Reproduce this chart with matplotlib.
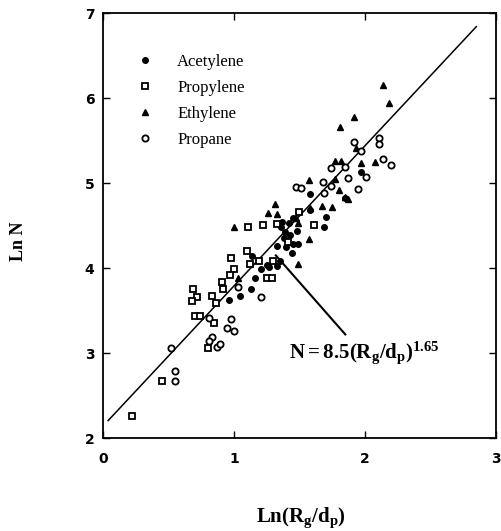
import matplotlib
matplotlib.use('Agg')
import numpy as np
import matplotlib.pyplot as plt

plt.rcParams['mathtext.fontset'] = 'custom'
plt.rcParams['mathtext.rm'] = 'Liberation Serif:bold'
plt.rcParams['mathtext.it'] = 'Liberation Serif:bold'
plt.rcParams['mathtext.bf'] = 'Liberation Serif:bold'

# Ln(Rg/dp), Ln N
acet_x = [1.14, 1.21, 1.16, 1.13, 1.05, 0.96, 1.25, 1.33, 1.35, 1.44, 1.45, 1.49, 1.58, 1.58, 1.36,
          1.39, 1.42, 1.37, 1.43, 1.38, 1.33, 1.70, 1.69, 1.45, 1.48, 1.97, 1.85, 1.27, 1.40]
acet_y = [4.14, 3.99, 3.88, 3.75, 3.67, 3.62, 4.04, 4.02, 4.09, 4.18, 4.28, 4.29, 4.68, 4.87, 4.48,
          4.42, 4.53, 4.54, 4.39, 4.36, 4.26, 4.60, 4.48, 4.59, 4.44, 5.13, 4.82, 4.01, 4.25]

propyl_x = [0.22, 0.45, 0.70, 0.74, 0.69, 0.72, 0.68, 0.83, 0.86, 0.85, 0.80, 0.91, 0.92, 0.98,
            1.00, 0.97, 1.10, 1.12, 1.19, 1.25, 1.29, 1.11, 1.22, 1.33, 1.50, 1.61, 1.41, 1.30]
propyl_y = [2.26, 2.67, 3.44, 3.44, 3.76, 3.66, 3.61, 3.67, 3.59, 3.36, 3.06, 3.84, 3.75, 4.12,
            3.99, 3.92, 4.20, 4.05, 4.09, 3.88, 3.88, 4.49, 4.51, 4.52, 4.66, 4.51, 4.31, 4.09]

ethyl_x = [2.14, 2.18, 1.92, 1.81, 1.93, 1.97, 2.08, 1.77, 1.82, 1.57, 1.77, 1.80, 1.85, 1.87,
           1.31, 1.26, 1.33, 1.47, 1.49, 1.58, 1.67, 1.75, 1.57, 1.49, 1.00, 1.03]
ethyl_y = [6.16, 5.94, 5.78, 5.66, 5.41, 5.24, 5.25, 5.26, 5.26, 5.04, 5.05, 4.92, 4.84, 4.81,
           4.76, 4.65, 4.64, 4.59, 4.53, 4.71, 4.73, 4.72, 4.34, 4.05, 4.48, 3.89]

propane_x = [0.52, 0.55, 0.55, 0.83, 0.81, 0.87, 0.89, 0.81, 0.98, 0.95, 1.00, 1.03, 1.21,
             1.92, 1.97, 2.11, 2.11, 2.14, 2.20, 2.01, 1.95, 1.87, 1.85, 1.74, 1.68, 1.74,
             1.47, 1.51, 1.69]
propane_y = [3.06, 2.79, 2.67, 3.19, 3.14, 3.07, 3.11, 3.41, 3.40, 3.29, 3.26, 3.78, 3.66,
             5.49, 5.38, 5.53, 5.46, 5.28, 5.22, 5.07, 4.93, 5.06, 5.19, 5.18, 5.01, 4.97,
             4.95, 4.94, 4.88]

# fit N = 8.5 (Rg/dp)^1.65
coef = 8.5
power = 1.65
fit_x = np.array([0.04, 2.85])
fit_y = np.log(coef) + power * fit_x

fig = plt.figure(figsize=(5.02, 5.31), dpi=100)
ax = fig.add_axes([0.205, 0.175, 0.783, 0.800])

ax.plot(fit_x, fit_y, color='black', lw=1.1)
ax.plot(acet_x, acet_y, 'o', color='black', ms=4, ls='none', label='Acetylene')
ax.plot(propyl_x, propyl_y, 's', mfc='white', mec='black', mew=1.3, ms=4.5, ls='none',
        label='Propylene')
ax.plot(ethyl_x, ethyl_y, '^', color='black', ms=5, ls='none', label='Ethylene')
ax.plot(propane_x, propane_y, 'o', mfc='white', mec='black', mew=1.3, ms=4.5, ls='none',
        label='Propane')

# pointer to the fitted line
ax.plot([1.32, 1.85], [4.15, 3.22], color='black', lw=1.5)
ax.text(1.42, 3.0, r'$\mathrm{N{=}8.5(R_g/d_p)^{1.65}}$', fontsize=15, va='center', ha='left')

ax.set_xlim(0, 3)
ax.set_ylim(2, 7)
ax.set_xticks([0, 1, 2, 3])
ax.set_yticks([2, 3, 4, 5, 6, 7])
ax.tick_params(direction='in', top=True, right=True, length=5, width=1,
               labelsize=10)
ax.tick_params(axis='x', pad=10)
ax.tick_params(axis='y', pad=6)
for lab in ax.get_xticklabels() + ax.get_yticklabels():
    lab.set_fontweight('bold')
for sp in ax.spines.values():
    sp.set_linewidth(1.3)

leg = ax.legend(loc='upper left', bbox_to_anchor=(0.07, 0.92), frameon=False,
                prop={'family': 'Liberation Serif', 'size': 12}, handletextpad=1.4,
                labelspacing=0.6, handlelength=1.0, borderaxespad=0)

fig.text(0.036, 0.545, 'Ln N', rotation=90, fontsize=13, fontweight='bold',
         family='Liberation Serif', ha='center', va='center')
fig.text(0.60, 0.025, r'$\mathrm{Ln(R_g/d_p)}$', fontsize=15, ha='center', va='center')

fig.savefig('out.png', dpi=100)
